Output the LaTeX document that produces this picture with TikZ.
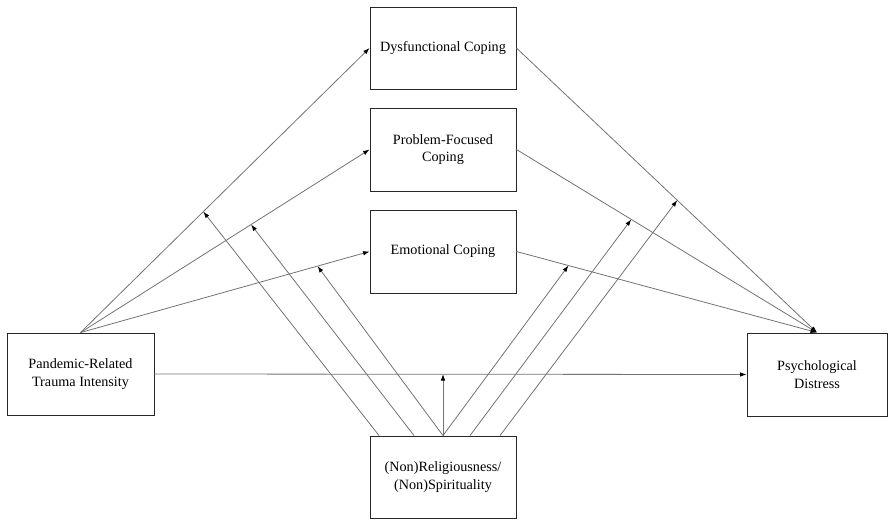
\documentclass[tikz,border=0pt]{standalone}
\usepackage{fontspec}
\setmainfont{Liberation Serif}
\usetikzlibrary{arrows.meta,calc}
\begin{document}
\begin{tikzpicture}[x=1pt,y=-1pt,
  box/.style={draw=black!85,line width=0.9pt,rectangle,inner sep=2pt,align=center,
    font=\fontsize{14.2}{17.6}\selectfont,text=black},
  conn/.style={draw=black!55,line width=0.8pt,-{Latex[length=6.5pt,width=4.5pt,black]}}]
\useasboundingbox (0,0) rectangle (888,519);
\node[box,minimum width=146pt,minimum height=82pt] (dys) at (443,48) {Dysfunctional Coping};
\node[box,minimum width=146pt,minimum height=83pt] (prob) at (443,149.5) {Problem-Focused\\Coping};
\node[box,minimum width=146pt,minimum height=83pt] (emo) at (443,251.5) {Emotional Coping};
\node[box,minimum width=147pt,minimum height=82pt] (pan) at (80.5,374) {Pandemic-Related\\Trauma Intensity};
\node[box,minimum width=140pt,minimum height=83pt] (dist) at (817,374.5) {Psychological\\Distress};
\node[box,minimum width=146pt,minimum height=82pt] (rel) at (443,477) {(Non)Religiousness/\\(Non)Spirituality};
% paths from predictor to mediators
\draw[conn] (pan.north) -- (dys.west);
\draw[conn] (pan.north) -- (prob.west);
\draw[conn] (pan.north) -- (emo.west);
% mediators to outcome
\draw[conn] (dys.east) -- (dist.north);
\draw[conn] (prob.east) -- (dist.north);
\draw[conn] (emo.east) -- (dist.north);
% direct effect
\draw[conn] (pan.east) -- (dist.west);
% moderation targets
\coordinate (md) at ($(pan.north)!0.425!(dys.west)$);
\coordinate (mp) at ($(pan.north)!0.59!(prob.west)$);
\coordinate (me) at ($(pan.north)!0.82!(emo.west)$);
\coordinate (nd) at ($(dys.east)!0.535!(dist.north)$);
\coordinate (np) at ($(prob.east)!0.382!(dist.north)$);
\coordinate (ne) at ($(emo.east)!0.173!(dist.north)$);
\coordinate (mc) at (rel.north |- pan.east);
% moderation arrows
\draw[conn] ([xshift=-64pt]rel.north) -- (md);
\draw[conn] ([xshift=-29pt]rel.north) -- (mp);
\draw[conn] (rel.north) -- (me);
\draw[conn] (rel.north) -- (mc);
\draw[conn] (rel.north) -- (ne);
\draw[conn] ([xshift=27pt]rel.north) -- (np);
\draw[conn] ([xshift=57pt]rel.north) -- (nd);
\end{tikzpicture}
\end{document}
